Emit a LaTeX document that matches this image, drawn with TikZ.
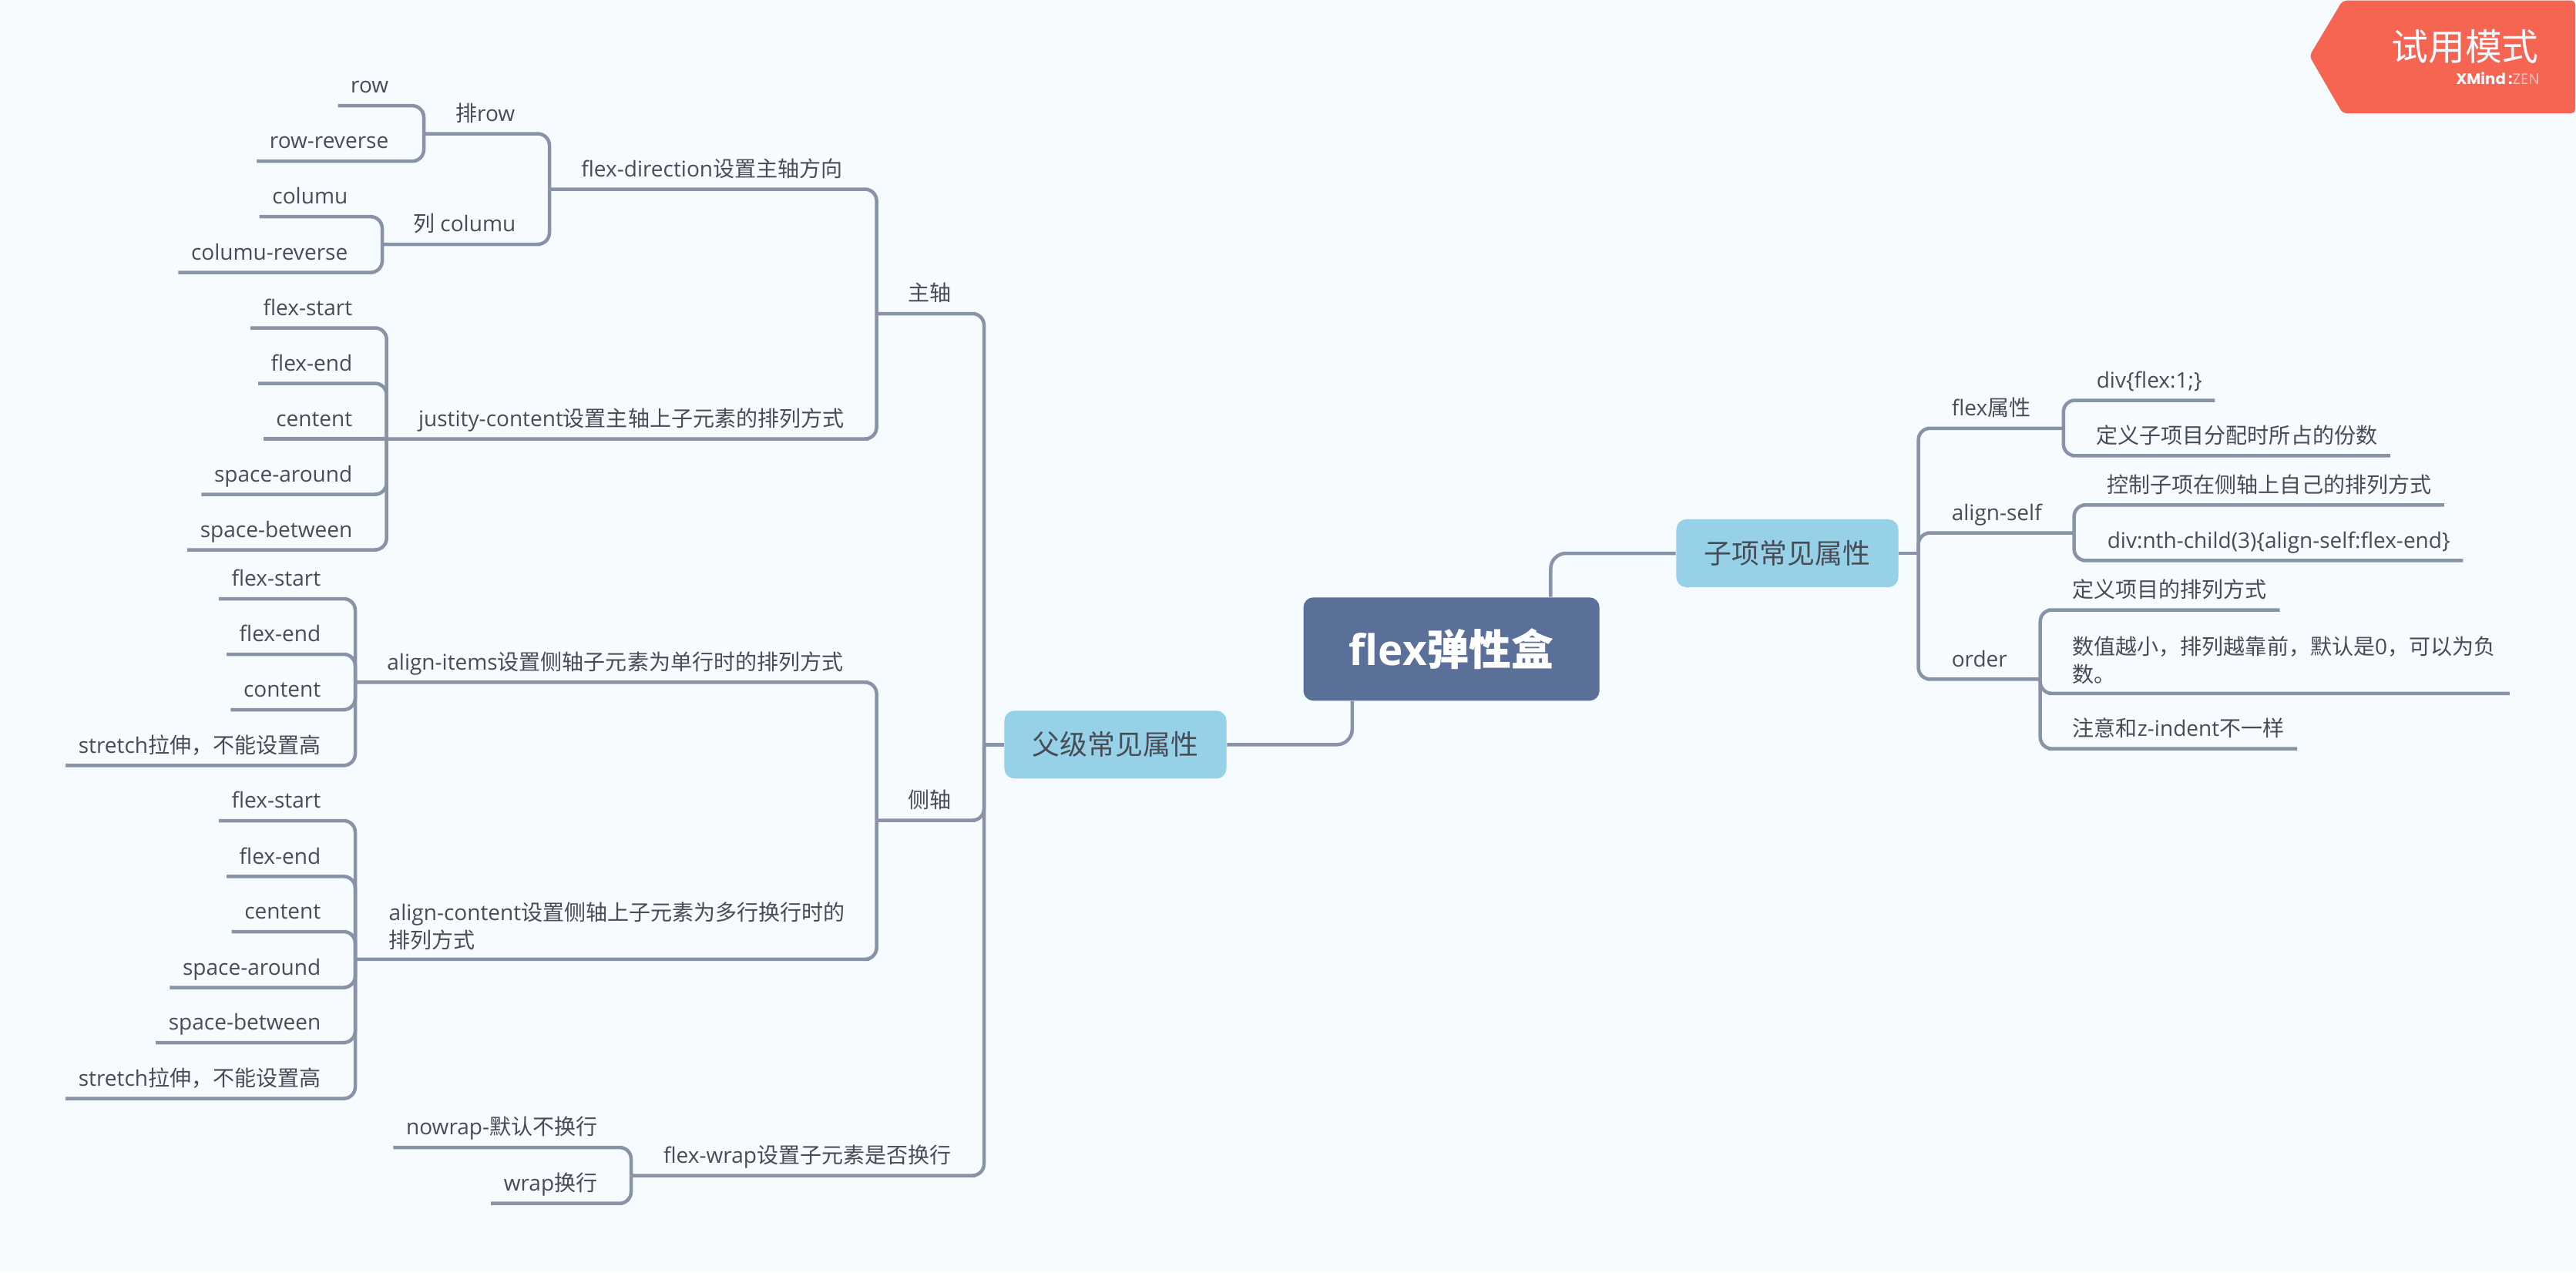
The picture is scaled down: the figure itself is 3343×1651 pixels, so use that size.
\documentclass[tikz,border=0pt]{standalone}
\usepackage{fontspec}
\setmainfont{Open Sans}
\newfontfamily\cjkfont{Noto Sans CJK SC}
\newfontfamily\brandfont{Poppins}
\newcommand{\zh}[1]{{\cjkfont #1}}
\usetikzlibrary{positioning, calc}
\definecolor{bgcol}{HTML}{F5FBFF}
\definecolor{linecol}{HTML}{8793A7}
\definecolor{textcol}{HTML}{474C55}
\definecolor{rootcol}{HTML}{5A7098}
\definecolor{subcol}{HTML}{96D1E8}
\definecolor{badgecol}{HTML}{F56551}

\begin{document}
\begin{tikzpicture}[
  x=0.01cm, y=-0.01cm,
  rootbox/.style={fill=rootcol, rounded corners=0.13cm, minimum width=3.84cm, minimum height=1.34cm,
                  inner sep=0pt, text=white, font=\fontsize{15.6}{18}\selectfont\bfseries},
  subbox/.style={fill=subcol, rounded corners=0.13cm, minimum width=2.88cm, minimum height=0.88cm,
                 inner sep=0pt, text=textcol, font=\fontsize{10.2}{12}\selectfont},
  lbl/.style={font=\fontsize{7.97}{10.2}\selectfont, text=textcol, inner xsep=0.16cm, inner ysep=0.085cm,
              text height=0.2cm, text depth=0.07cm},
  lbltwo/.style={font=\fontsize{7.97}{10.2}\selectfont, text=textcol, inner xsep=0.16cm, inner ysep=0.11cm,
                 align=left},
  lft/.style={lbl, anchor=south east},
  rgt/.style={lbl, anchor=south west},
  conn/.style={draw=linecol, line width=0.045cm, rounded corners=0.15cm},
]
\fill[bgcol] (0,0) rectangle (3343,1651);
\useasboundingbox (0,0) rectangle (3343,1651);

% Central topics
\node[rootbox] (root) at (1883.6,842.3) {flex\zh{弹性盒}};
\node[subbox] (fu) at (1447.5,966.3) {\zh{父级常见属性}};
\node[subbox] (zi) at (2319.5,718) {\zh{子项常见属性}};

% Main axis
\node[lft] (zhu) at (1251,407) {\zh{主轴}};
\node[lft] (dir) at (1110,245.6) {flex-direction\zh{设置主轴方向}};
\node[lft] (pai) at (685,173.6) {\zh{排}row};
\node[lft] (lie) at (686,317) {\zh{列} columu};
\node[lft] (row) at (521,137.2) {row};
\node[lft] (rowrev) at (521,209.2) {row-reverse};
\node[lft] (colu) at (468,281.2) {columu};
\node[lft] (colurev) at (468,353.6) {columu-reverse};
\node[lft] (jus) at (1112,569.5) {justity-content\zh{设置主轴上子元素的排列方式}};
\node[lft] (jfs) at (474,425.6) {flex-start};
\node[lft] (jfe) at (474,497.5) {flex-end};
\node[lft] (jcn) at (474,569.5) {centent};
\node[lft] (jsa) at (474,641.5) {space-around};
\node[lft] (jsb) at (474,713.5) {space-between};

% Cross axis
\node[lft] (ce) at (1251,1064.5) {\zh{侧轴}};
\node[lft] (ali) at (1111,885.4) {align-items\zh{设置侧轴子元素为单行时的排列方式}};
\node[lft] (afs) at (433,777) {flex-start};
\node[lft] (afe) at (433,849) {flex-end};
\node[lft] (aco) at (433,921) {content};
\node[lft] (ast) at (433,993.3) {stretch\zh{拉伸，不能设置高}};
\node[lbltwo, anchor=south west] (alc) at (488,1244.8) {align-content\zh{设置侧轴上子元素为多行换行时的}\\\zh{排列方式}};
\node[lft] (cfs) at (433,1065) {flex-start};
\node[lft] (cfe) at (433,1137.4) {flex-end};
\node[lft] (cce) at (433,1209) {centent};
\node[lft] (csa) at (433,1281.5) {space-around};
\node[lft] (csb) at (433,1353) {space-between};
\node[lft] (cst) at (433,1425.6) {stretch\zh{拉伸，不能设置高}};

% Wrap
\node[lft] (wra) at (1251,1525.5) {flex-wrap\zh{设置子元素是否换行}};
\node[lft] (now) at (792,1489) {nowrap-\zh{默认不换行}};
\node[lft] (wrp) at (792,1561.7) {wrap\zh{换行}};

% Child item side
\node[rgt] (fla) at (2516,555.8) {flex\zh{属性}};
\node[rgt] (asf) at (2516,691.6) {align-self};
\node[rgt] (ord) at (2516,881.3) {order};
\node[rgt] (fa) at (2704,519.5) {div\{flex:1;\}};
\node[rgt] (fb) at (2704,591.3) {\zh{定义子项目分配时所占的份数}};
\node[rgt] (sa) at (2718,655.3) {\zh{控制子项在侧轴上自己的排列方式}};
\node[rgt] (sb) at (2718,727.4) {div:nth-child(3)\{align-self:flex-end\}};
\node[rgt] (oa) at (2673,791.5) {\zh{定义项目的排列方式}};
\node[lbltwo, anchor=south west, text width=5.5cm] (ob) at (2673,899.8) {\zh{数值越小，排列越靠前，默认是}0\zh{，可以为负}\\\zh{数。}};
\node[rgt] (oc) at (2673,971.6) {\zh{注意和}z-indent\zh{不一样}};

% Junctions
\coordinate (jpai) at (550,173.6);
\coordinate (jlie) at (496,317);
\coordinate (jdir) at (713,245.6);
\coordinate (jjus) at (501.7,569.5);
\coordinate (jzhu) at (1137.6,407);
\coordinate (jali) at (461,885.4);
\coordinate (jalc) at (461,1244.8);
\coordinate (jce) at (1137.6,1064.5);
\coordinate (jwra) at (819,1525.5);
\coordinate (jfu) at (1277,966.3);
\coordinate (jzi) at (2489.6,718);
\coordinate (jfla) at (2677.8,555.8);
\coordinate (jasf) at (2691.6,691.6);
\coordinate (jord) at (2647.7,881.3);

% Lines - root
\draw[conn, rounded corners=0.2cm] (fu.east) -| ([xshift=0.64cm]root.south west);
\draw[conn, rounded corners=0.2cm] (zi.west) -| ([xshift=-0.64cm]root.north east);
\draw[conn] (fu.west) -- (jfu);
\draw[conn] (zi.east) -- (jzi);

% Lines - left side
\draw[conn] (jzhu) -- (zhu.south east) -| (jfu);
\draw[conn] (jce) -- (ce.south east) -| (jfu);
\draw[conn] (jwra) -- (wra.south east) -| (jfu);
\draw[conn] (jdir) -- (dir.south east) -| (jzhu);
\draw[conn] (jjus) -- (jus.south east) -| (jzhu);
\draw[conn] (jali) -- (ali.south east) -| (jce);
\draw[conn] (jalc) -- (alc.south east) -| (jce);
\draw[conn] (jpai) -- (pai.south east) -| (jdir);
\draw[conn] (jlie) -- (lie.south east) -| (jdir);
\draw[conn] (row.south west) -- (row.south east) -| (jpai);
\draw[conn] (rowrev.south west) -- (rowrev.south east) -| (jpai);
\draw[conn] (colu.south west) -- (colu.south east) -| (jlie);
\draw[conn] (colurev.south west) -- (colurev.south east) -| (jlie);
\draw[conn] (jfs.south west) -- (jfs.south east) -| (jjus);
\draw[conn] (jfe.south west) -- (jfe.south east) -| (jjus);
\draw[conn] (jcn.south west) -- (jjus);
\draw[conn] (jsa.south west) -- (jsa.south east) -| (jjus);
\draw[conn] (jsb.south west) -- (jsb.south east) -| (jjus);
\draw[conn] (afs.south west) -- (afs.south east) -| (jali);
\draw[conn] (afe.south west) -- (afe.south east) -| (jali);
\draw[conn] (aco.south west) -- (aco.south east) -| (jali);
\draw[conn] (ast.south west) -- (ast.south east) -| (jali);
\draw[conn] (cfs.south west) -- (cfs.south east) -| (jalc);
\draw[conn] (cfe.south west) -- (cfe.south east) -| (jalc);
\draw[conn] (cce.south west) -- (cce.south east) -| (jalc);
\draw[conn] (csa.south west) -- (csa.south east) -| (jalc);
\draw[conn] (csb.south west) -- (csb.south east) -| (jalc);
\draw[conn] (cst.south west) -- (cst.south east) -| (jalc);
\draw[conn] (now.south west) -- (now.south east) -| (jwra);
\draw[conn] (wrp.south west) -- (wrp.south east) -| (jwra);

% Lines - right side
\draw[conn] (jfla) -- (fla.south west) -| (jzi);
\draw[conn] (jasf) -- (asf.south west) -| (jzi);
\draw[conn] (jord) -- (ord.south west) -| (jzi);
\draw[conn] (fa.south east) -- (fa.south west) -| (jfla);
\draw[conn] (fb.south east) -- (fb.south west) -| (jfla);
\draw[conn] (sa.south east) -- (sa.south west) -| (jasf);
\draw[conn] (sb.south east) -- (sb.south west) -| (jasf);
\draw[conn] (oa.south east) -- (oa.south west) -| (jord);
\draw[conn] (ob.south east) -- (ob.south west) -| (jord);
\draw[conn] (oc.south east) -- (oc.south west) -| (jord);

% Trial badge
\fill[badgecol, rounded corners=0.05cm] (2997,72.7) -- (3040,0.7) -- (3342,0.7) -- (3342,147) -- (3040,147) -- cycle;
\node[anchor=center, inner sep=0pt, text=bgcol, font=\fontsize{13.6}{16}\selectfont] (badge) at (3199,60) {\zh{试用模式}};
\node[anchor=east, inner sep=0pt, text=bgcol, font=\fontsize{5.6}{7}\selectfont\brandfont] (brand) at (3296,102) {\textbf{XMind}\,\textbf{:}\textcolor{bgcol!60!badgecol}{ZEN}};
\end{tikzpicture}
\end{document}
